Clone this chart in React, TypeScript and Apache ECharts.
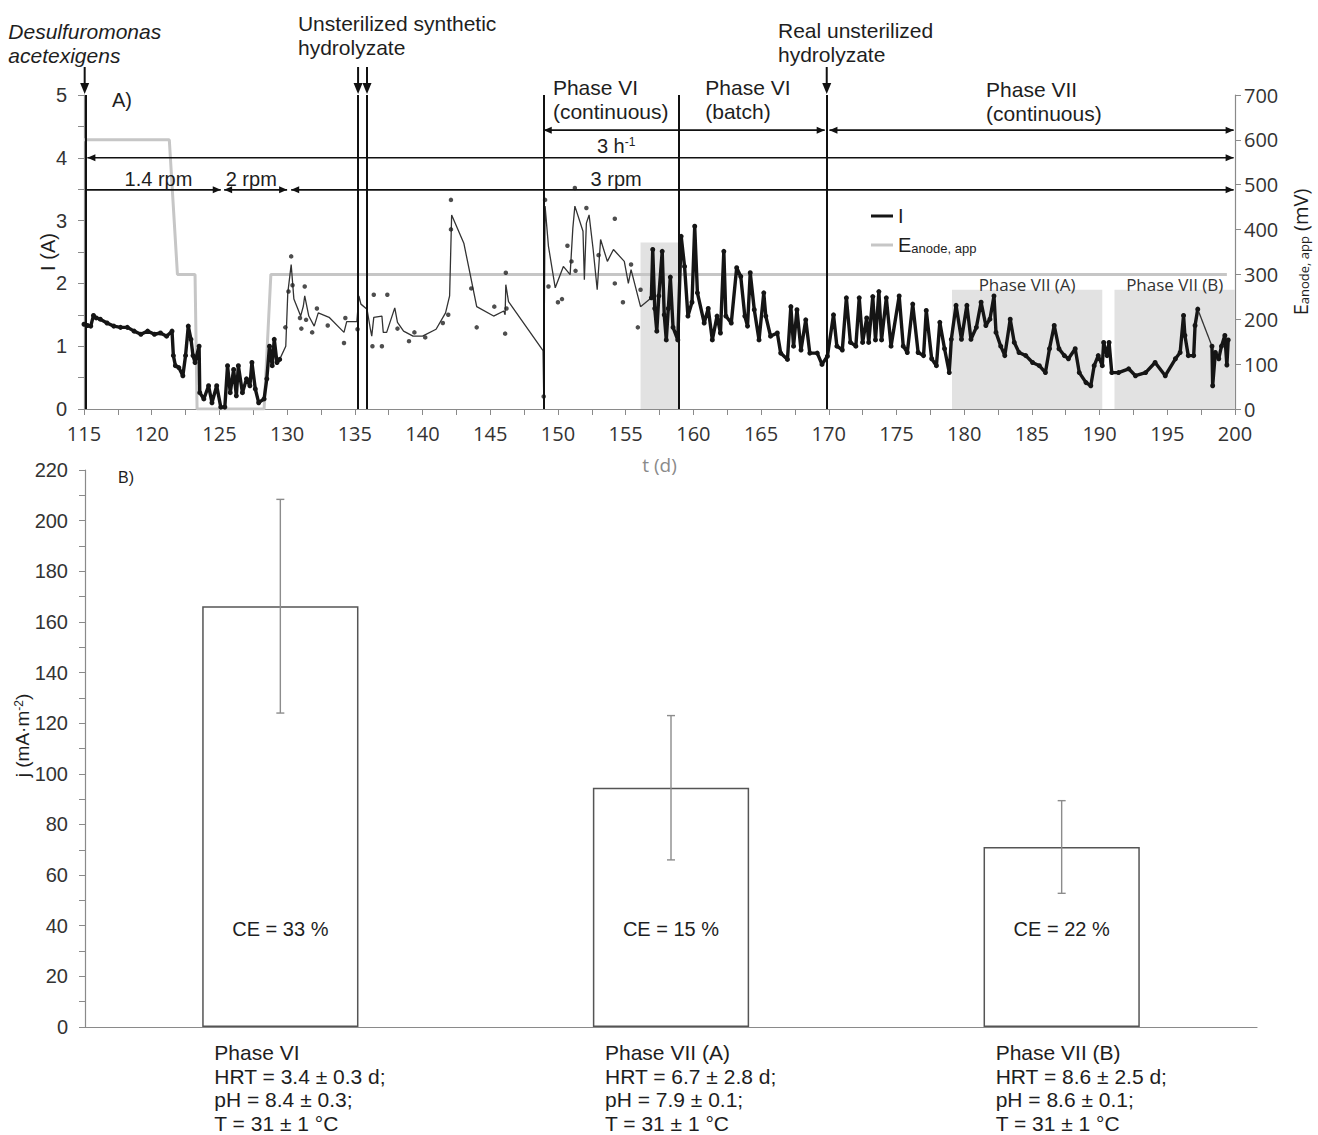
import React, { useEffect, useRef } from "react";
import * as echarts from "echarts";

const FONT = "'Liberation Sans', Arial, sans-serif";
const FONT2 = "'Open Sans', 'Liberation Sans', sans-serif";

// ---------- Panel A data ----------
const eAnode: number[][] = [
  [115, 600], [121.3, 600], [121.9, 300], [123.2, 300], [123.35, 0],
  [128.3, 0], [128.8, 300], [199.4, 300],
];

const iDense1: number[][] = [
  [115.0, 1.35], [115.25, 1.33], [115.5, 1.32], [115.7, 1.49], [115.9, 1.45], [116.2, 1.43],
  [116.7, 1.37], [117.2, 1.32], [117.7, 1.30], [118.2, 1.30], [118.7, 1.24], [119.2, 1.19],
  [119.7, 1.24], [120.2, 1.19], [120.65, 1.21], [121.1, 1.16], [121.5, 1.24], [121.6, 0.85],
  [121.75, 0.69], [122.0, 0.66], [122.3, 0.53], [122.5, 0.85], [122.7, 1.32], [122.9, 1.11],
  [123.05, 0.85], [123.2, 0.74], [123.5, 1.0], [123.55, 0.26], [123.85, 0.16], [124.2, 0.37],
  [124.45, 0.1], [124.8, 0.37], [125.1, 0.03], [125.4, 0.03], [125.6, 0.69], [125.8, 0.26],
  [126.05, 0.63], [126.25, 0.21], [126.4, 0.69], [126.7, 0.26], [127.0, 0.48], [127.25, 0.37],
  [127.4, 0.74], [127.65, 0.32], [127.9, 0.1], [128.3, 0.16], [128.5, 0.48], [128.7, 1.0],
  [128.9, 0.69], [129.05, 1.11], [129.25, 0.74], [129.45, 0.79],
];

const iSparse: number[][] = [
  [129.45, 0.79], [129.9, 1.0], [130.05, 1.85], [130.3, 2.3], [130.5, 1.75], [131.0, 1.48],
  [131.2, 1.64], [131.3, 1.8], [131.6, 1.48], [132.0, 1.32], [132.3, 1.53], [133.1, 1.46],
  [134.2, 1.22], [134.4, 1.39], [135.15, 1.39], [135.3, 1.8], [135.45, 1.67], [135.9, 1.59],
  [136.15, 1.27], [136.25, 1.16], [136.4, 1.46], [137.0, 1.48], [137.1, 1.22], [137.35, 1.22],
  [137.95, 1.61], [138.15, 1.38], [138.6, 1.24], [139.3, 1.16], [140.0, 1.16], [141.0, 1.27],
  [141.7, 1.53], [142.0, 1.8], [142.15, 3.09], [143.05, 2.64], [143.4, 2.27], [144.0, 1.63],
  [145.25, 1.48], [146.0, 1.56], [146.1, 1.5], [146.15, 1.98], [146.35, 1.71], [148.9, 0.93],
  [148.95, 0.2], [149.05, 3.23], [149.3, 2.59], [149.8, 1.93], [150.4, 2.27], [150.9, 2.14],
  [151.1, 2.88], [151.25, 3.23], [151.85, 2.83], [151.95, 2.06], [152.1, 2.96], [152.3, 3.09],
  [152.6, 2.54], [152.9, 1.9], [153.15, 2.70], [153.65, 2.35], [154.1, 2.54], [154.9, 2.35],
  [155.2, 2.0], [155.4, 2.22], [156.1, 1.63], [156.9, 1.77],
];

const iDense2: number[][] = [
  [156.9, 1.77], [157.0, 2.54], [157.15, 1.6], [157.3, 1.24], [157.45, 1.8], [157.7, 2.51],
  [157.85, 1.5], [158.0, 1.1], [158.15, 1.6], [158.3, 2.1], [158.5, 1.3], [158.85, 1.1],
  [159.1, 2.75], [159.35, 2.27], [159.6, 1.48], [159.9, 1.7], [160.1, 2.91], [160.3, 1.85],
  [160.8, 1.37], [161.1, 1.6], [161.4, 1.1], [161.75, 1.48], [162.0, 1.21], [162.25, 2.51],
  [162.4, 1.48], [162.8, 1.37], [163.2, 2.25], [163.5, 2.11], [163.8, 1.48], [164.0, 1.32],
  [164.2, 2.17], [164.5, 1.58], [164.85, 1.1], [165.2, 1.85], [165.35, 1.48], [165.7, 1.16],
  [166.2, 1.21], [166.45, 0.89], [166.95, 0.79], [167.2, 1.63], [167.4, 1.0], [167.65, 1.58],
  [167.95, 0.94], [168.3, 1.42], [168.6, 0.89], [169.15, 0.89], [169.5, 0.71], [169.9, 0.84],
  [170.35, 1.5], [170.6, 1.0], [171.0, 0.94], [171.3, 1.77], [171.6, 1.06], [172.0, 1.0],
  [172.25, 1.77], [172.5, 1.06], [172.8, 1.45], [172.95, 1.06], [173.25, 1.79], [173.45, 1.1],
  [173.7, 1.87], [173.9, 1.1], [174.25, 1.77], [174.6, 1.0], [175.2, 1.8], [175.5, 1.0],
  [175.8, 0.9], [176.2, 1.67], [176.6, 0.9], [177.0, 0.85], [177.2, 1.57], [177.6, 0.8],
  [177.95, 0.69], [178.2, 1.38], [178.55, 0.96], [178.9, 0.58], [179.05, 1.11], [179.4, 1.65],
  [179.8, 1.11], [180.2, 1.65], [180.5, 1.11], [180.9, 1.3], [181.25, 1.7], [181.6, 1.33],
  [181.9, 1.43], [182.2, 1.8], [182.35, 1.22], [182.7, 1.0], [183.0, 0.85], [183.4, 1.43],
  [183.7, 1.06], [184.05, 0.9], [184.55, 0.85], [185.05, 0.74], [185.55, 0.69], [186.0, 0.58],
  [186.3, 0.96], [186.65, 1.33], [187.0, 0.96], [187.4, 0.85], [187.7, 0.8], [188.2, 0.96],
  [188.5, 0.58], [189.0, 0.42], [189.35, 0.37], [189.6, 0.69], [189.9, 0.85], [190.2, 0.69],
  [190.3, 1.06], [190.55, 0.85], [190.7, 1.06], [190.9, 0.58], [191.4, 0.58], [192.15, 0.64],
  [192.65, 0.53], [193.4, 0.58], [194.1, 0.74], [194.85, 0.53], [195.6, 0.8], [195.95, 0.9],
  [196.2, 1.49], [196.3, 1.17], [196.55, 0.85], [196.95, 0.85], [197.05, 1.33], [197.25, 1.59],
];

const iLink: number[][] = [[197.25, 1.59], [198.3, 1.0]];

const iDense3: number[][] = [
  [198.3, 1.0], [198.35, 0.37], [198.55, 0.9], [198.8, 0.8], [199.0, 1.0], [199.25, 1.17],
  [199.4, 0.7], [199.5, 1.1],
];

const iDots: number[][] = [
  [129.87, 1.3], [130.1, 1.87], [130.3, 2.43], [130.4, 1.97], [130.95, 1.45], [131.05, 1.28],
  [131.3, 1.95], [131.4, 1.42], [131.85, 1.22], [132.2, 1.6], [133.0, 1.33], [134.2, 1.05],
  [134.3, 1.45], [135.2, 1.27], [136.3, 1.0], [136.4, 1.82], [137.0, 1.0], [137.4, 1.82],
  [138.15, 1.28], [139.0, 1.08], [139.4, 1.22], [140.2, 1.14], [141.5, 1.37], [141.9, 1.5],
  [142.1, 3.33], [142.1, 2.86], [143.6, 1.92], [144.0, 1.3], [145.3, 1.63], [146.1, 1.2],
  [146.15, 2.17], [146.2, 1.6], [148.95, 0.2], [149.05, 3.33], [149.3, 1.95], [150.0, 1.7],
  [150.3, 1.75], [150.7, 2.6], [151.0, 2.35], [151.25, 3.52], [151.3, 2.2], [152.1, 3.2],
  [153.0, 2.45], [154.2, 2.0], [154.2, 3.03], [154.8, 1.7], [155.4, 2.3], [155.9, 1.3],
  [156.1, 1.9],
];

const eventLines = [115.1, 135.24, 135.9, 148.95, 158.9, 169.85];

const shadedAreas = [
  { name: "", from: 156.1, to: 158.9, top: 2.65 },
  { name: "Phase VII (A)", from: 179.1, to: 190.2, top: 1.9 },
  { name: "Phase VII (B)", from: 191.1, to: 200, top: 1.9 },
];

// ---------- Panel B data ----------
const phases = ["Phase VI", "Phase VII (A)", "Phase VII (B)"];
const hrt = ["3.4 ± 0.3", "6.7 ± 2.8", "8.6 ± 2.5"];
const ph = ["8.4 ± 0.3", "7.9 ± 0.1", "8.6 ± 0.1"];
const temp = ["31 ± 1", "31 ± 1", "31 ± 1"];
const jMean = [166.2, 94.5, 71.1];
const jErr = [42.2, 28.5, 18.3];
const ceValues = [33, 15, 22];

const catLabels = phases.map(
  (p, i) => `${p}\nHRT = ${hrt[i]} d;\npH = ${ph[i]};\nT = ${temp[i]} °C`
);

const AX = "#8a8a8a";
const TXT = "#1e1e1e";

const option: any = {
  animation: false,
  backgroundColor: "#ffffff",
  textStyle: { fontFamily: FONT },
  grid: [
    { left: 84, top: 95, width: 1156, height: 314 },
    { left: 85, top: 470, width: 1172, height: 559 },
  ],
  legend: {
    data: ["I", "E"],
    left: 866,
    top: 201,
    orient: "vertical",
    itemGap: 9,
    itemWidth: 22,
    itemHeight: 3,
    icon: "rect",
    selectedMode: false,
    textStyle: {
      fontSize: 20,
      color: TXT,
      fontFamily: FONT,
      rich: { sub: { fontSize: 13, verticalAlign: "bottom", fontFamily: FONT, color: TXT } },
    },
    formatter: (n: string) => (n === "E" ? "E{sub|anode, app}" : n),
  },
  xAxis: [
    {
      type: "value",
      gridIndex: 0,
      min: 115,
      max: 200,
      interval: 5,
      axisLine: { lineStyle: { color: AX, width: 1.2 } },
      axisTick: { length: 6, lineStyle: { color: AX } },
      minorTick: { show: true, splitNumber: 2, length: 6, lineStyle: { color: AX } },
      splitLine: { show: false },
      axisLabel: { fontSize: 20, lineHeight: 20, color: "#333", margin: 14, fontFamily: FONT2 },
      name: "t (d)",
      nameLocation: "middle",
      nameGap: 46,
      nameMoveOverlap: false,
      nameTextStyle: { fontSize: 19, color: "#8a8a8a", fontFamily: FONT2 },
    },
    {
      type: "category",
      gridIndex: 1,
      data: phases,
      axisLine: { lineStyle: { color: AX, width: 1.2 } },
      axisTick: { alignWithLabel: true, length: 7, lineStyle: { color: AX } },
      axisLabel: {
        interval: 0,
        align: "left",
        padding: [0, 0, 0, -66],
        fontSize: 21,
        lineHeight: 23.5,
        color: TXT,
        margin: 14,
        fontFamily: FONT,
        formatter: (_v: string, i: number) => catLabels[i],
      },
    },
  ],
  yAxis: [
    {
      type: "value",
      gridIndex: 0,
      min: 0,
      max: 5,
      interval: 1,
      axisLine: { show: true, lineStyle: { color: AX, width: 1.2 } },
      axisTick: { show: true, length: 6, lineStyle: { color: AX } },
      minorTick: { show: true, splitNumber: 2, length: 6, lineStyle: { color: AX } },
      splitLine: { show: false },
      axisLabel: { fontSize: 20, color: "#333", margin: 17 },
      name: "I (A)",
      nameLocation: "middle",
      nameGap: 26,
      nameRotate: 90,
      nameMoveOverlap: false,
      nameTextStyle: { fontSize: 20, color: TXT },
    },
    {
      type: "value",
      gridIndex: 0,
      position: "right",
      min: 0,
      max: 700,
      interval: 100,
      axisLine: { show: true, lineStyle: { color: AX, width: 1.2 } },
      axisTick: { show: true, length: 6, lineStyle: { color: AX } },
      splitLine: { show: false },
      axisLabel: { fontSize: 20, lineHeight: 18, color: "#333", margin: 9, fontFamily: FONT2 },
      name: "E{sub|anode, app} (mV)",
      nameLocation: "middle",
      nameGap: 55,
      nameRotate: 90,
      nameMoveOverlap: false,
      nameTextStyle: {
        fontSize: 20,
        color: TXT,
        fontFamily: FONT2,
        rich: { sub: { fontSize: 13, verticalAlign: "bottom", fontFamily: FONT2, color: TXT } },
      },
    },
    {
      type: "value",
      gridIndex: 1,
      min: 0,
      max: 220,
      interval: 20,
      axisLine: { show: true, lineStyle: { color: AX, width: 1.2 } },
      axisTick: { show: true, length: 6, lineStyle: { color: AX } },
      minorTick: { show: true, splitNumber: 2, length: 6, lineStyle: { color: AX } },
      splitLine: { show: false },
      axisLabel: { fontSize: 20, color: "#333", margin: 17 },
      name: "j (mA·m{sup|-2})",
      nameLocation: "middle",
      nameGap: 53,
      nameRotate: 90,
      nameMoveOverlap: false,
      nameTextStyle: {
        fontSize: 19,
        color: TXT,
        padding: [0, 0, 0, 26],
        rich: { sup: { fontSize: 12, verticalAlign: "top", color: TXT } },
      },
    },
  ],
  series: [
    {
      type: "line",
      xAxisIndex: 0,
      yAxisIndex: 0,
      data: [],
      z: 1,
      silent: true,
      markArea: {
        silent: true,
        itemStyle: { color: "#e2e2e2" },
        label: { show: true, position: "top", distance: -3, fontSize: 17, color: "#333", fontFamily: FONT2 },
        data: shadedAreas.map((a) => [
          { name: a.name, xAxis: a.from, yAxis: 0 },
          { xAxis: a.to, yAxis: a.top },
        ]),
      },
      markLine: {
        silent: true,
        symbol: ["none", "none"],
        label: { show: false },
        lineStyle: { color: "#111", width: 2, type: "solid" },
        data: eventLines.map((t) => ({ xAxis: t })),
      },
    },
    {
      name: "E",
      type: "line",
      xAxisIndex: 0,
      yAxisIndex: 1,
      data: eAnode,
      showSymbol: false,
      symbol: "none",
      lineStyle: { color: "#c6c6c6", width: 3 },
      itemStyle: { color: "#c6c6c6" },
      z: 2,
    },
    ...[iDense1, iDense2, iDense3].map((d) => ({
      name: "I",
      type: "line",
      xAxisIndex: 0,
      yAxisIndex: 0,
      data: d,
      symbol: "circle",
      symbolSize: 5,
      showSymbol: true,
      showAllSymbol: true,
      lineStyle: { color: "#151515", width: 3.4 },
      itemStyle: { color: "#151515" },
      z: 3,
    })),
    ...[iSparse, iLink].map((d) => ({
      type: "line",
      xAxisIndex: 0,
      yAxisIndex: 0,
      data: d,
      showSymbol: false,
      symbol: "none",
      lineStyle: { color: "#333", width: 1.3 },
      z: 3,
    })),
    {
      type: "scatter",
      xAxisIndex: 0,
      yAxisIndex: 0,
      data: iDots,
      symbolSize: 4.5,
      itemStyle: { color: "#222" },
      z: 3,
    },
    {
      type: "bar",
      xAxisIndex: 1,
      yAxisIndex: 2,
      data: jMean,
      barWidth: "40%",
      itemStyle: { color: "#ffffff", borderColor: "#555", borderWidth: 1.5 },
      label: {
        show: true,
        position: "insideBottom",
        distance: 88,
        fontSize: 20,
        color: TXT,
        fontFamily: FONT,
        formatter: (p: any) => `CE = ${ceValues[p.dataIndex]} %`,
      },
    },
    {
      type: "custom",
      xAxisIndex: 1,
      yAxisIndex: 2,
      z: 5,
      data: jMean.map((m, i) => [i, m - jErr[i], m + jErr[i]]),
      renderItem: (_params: any, api: any) => {
        const idx = api.value(0);
        const lo = api.coord([idx, api.value(1)]);
        const hi = api.coord([idx, api.value(2)]);
        const hw = 4;
        const st = { stroke: "#8c8c8c", lineWidth: 1.4 };
        return {
          type: "group",
          children: [
            { type: "line", shape: { x1: hi[0], y1: hi[1], x2: lo[0], y2: lo[1] }, style: st },
            { type: "line", shape: { x1: hi[0] - hw, y1: hi[1], x2: hi[0] + hw, y2: hi[1] }, style: st },
            { type: "line", shape: { x1: lo[0] - hw, y1: lo[1], x2: lo[0] + hw, y2: lo[1] }, style: st },
          ],
        };
      },
    },
  ],
};

// Annotation rows (in I units / days)
const rowRate = 4.0;
const rowRpm = 3.49;
const rowPhase = 4.44;
const rpmSegments = [
  { from: 115.1, to: 125.1, left: false, right: true },
  { from: 125.35, to: 130.0, left: true, right: true },
  { from: 130.3, to: 199.9, left: true, right: true },
];
const phaseSegments = [
  { from: 148.95, to: 169.7, left: true, right: true },
  { from: 170.05, to: 199.9, left: true, right: true },
];
const rateSegments = [{ from: 115.25, to: 199.9, left: true, right: true }];
const downArrows = [115.05, 135.24, 135.9, 169.85];

export default function App() {
  const ref = useRef<HTMLDivElement>(null);
  useEffect(() => {
    const chart = echarts.init(ref.current!, null, { renderer: "svg" });
    chart.setOption(option);
    const P = (t: number, v: number) =>
      chart.convertToPixel({ xAxisIndex: 0, yAxisIndex: 0 }, [t, v]) as number[];
    const yTop = P(115, 5)[1];
    const els: any[] = [];
    const black = "#111";
    const hArrow = (s: any, v: number) => {
      const a = P(s.from, v);
      const b = P(s.to, v);
      const y = a[1];
      els.push({ type: "line", shape: { x1: a[0], y1: y, x2: b[0], y2: y }, style: { stroke: black, lineWidth: 1.6 }, z: 10 });
      if (s.left)
        els.push({ type: "polygon", shape: { points: [[a[0], y], [a[0] + 8, y - 3.5], [a[0] + 8, y + 3.5]] }, style: { fill: black }, z: 10 });
      if (s.right)
        els.push({ type: "polygon", shape: { points: [[b[0], y], [b[0] - 8, y - 3.5], [b[0] - 8, y + 3.5]] }, style: { fill: black }, z: 10 });
    };
    rateSegments.forEach((s) => hArrow(s, rowRate));
    rpmSegments.forEach((s) => hArrow(s, rowRpm));
    phaseSegments.forEach((s) => hArrow(s, rowPhase));

    downArrows.forEach((t) => {
      const x = P(t, 0)[0];
      const y1 = yTop - 28;
      const y2 = yTop - 1;
      els.push({ type: "line", shape: { x1: x, y1, x2: x, y2: y2 - 8 }, style: { stroke: black, lineWidth: 2 }, z: 10 });
      els.push({ type: "polygon", shape: { points: [[x, y2], [x - 4.5, y2 - 11], [x + 4.5, y2 - 11]] }, style: { fill: black }, z: 10 });
    });

    const txt = (t: number, y: number, text: string, extra: any = {}) => {
      els.push({
        type: "text",
        x: P(t, 0)[0],
        y,
        z: 11,
        style: {
          text,
          fontSize: 21,
          fontFamily: FONT,
          fill: TXT,
          lineHeight: 24,
          align: "left",
          verticalAlign: "top",
          ...extra,
        },
      });
    };
    txt(109.41, yTop - 76, "Desulfuromonas\nacetexigens", { fontStyle: "italic" });
    txt(130.8, yTop - 84, "Unsterilized synthetic\nhydrolyzate");
    txt(166.25, yTop - 77, "Real unsterilized\nhydrolyzate");
    txt(149.63, yTop - 20, "Phase VI\n(continuous)");
    txt(160.88, yTop - 20, "Phase VI\n(batch)");
    txt(181.62, yTop - 18, "Phase VII\n(continuous)");
    txt(117.06, yTop - 7, "A)", { fontSize: 20 });

    const ctext = (t: number, v: number, text: string, extra: any = {}) => {
      const p = P(t, v);
      els.push({
        type: "text",
        x: p[0],
        y: p[1],
        z: 11,
        style: {
          text,
          fontSize: 20,
          fontFamily: FONT,
          fill: TXT,
          align: "center",
          verticalAlign: "middle",
          ...extra,
        },
      });
    };
    ctext(120.5, 3.66, "1.4 rpm");
    ctext(127.35, 3.66, "2 rpm");
    ctext(154.3, 3.67, "3 rpm");
    ctext(154.3, 4.19, "3 h{sup|-1}", { rich: { sup: { fontSize: 12, verticalAlign: "top", fontFamily: FONT, fill: TXT } } });

    els.push({
      type: "text",
      x: 118,
      y: 469,
      z: 11,
      style: { text: "B)", fontSize: 16, fontFamily: FONT, fill: TXT, align: "left", verticalAlign: "top" },
    });

    chart.setOption({ graphic: els });
    return () => chart.dispose();
  }, []);
  return (
    <div
      ref={ref}
      style={{ position: "absolute", left: 0, top: 0, width: 1318, height: 1135 }}
    />
  );
}
